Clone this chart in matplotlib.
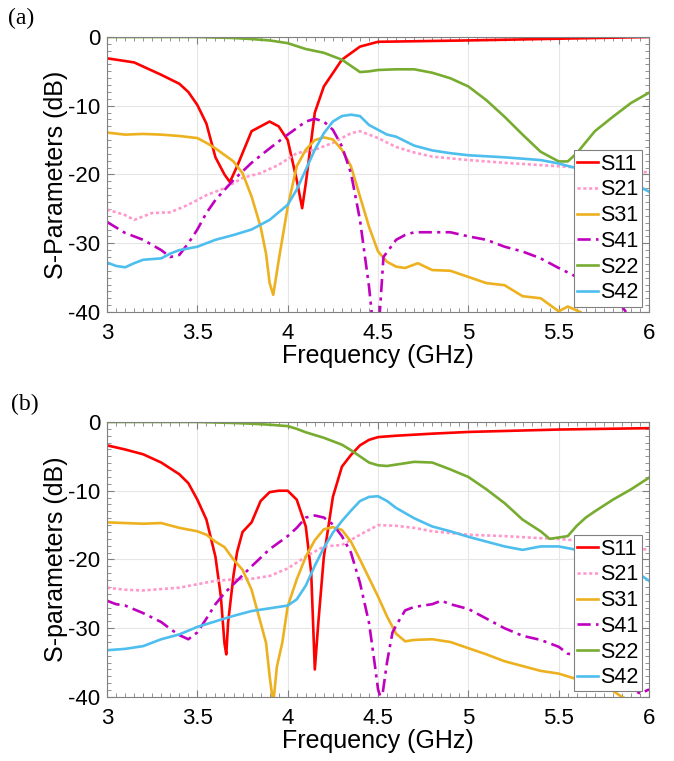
import matplotlib
matplotlib.use('Agg')
import matplotlib.pyplot as plt
from matplotlib.ticker import MultipleLocator

####################################################
# Data
####################################################
series_names = ['S11', 'S21', 'S31', 'S41', 'S22', 'S42']

# ---- panel (a) ----
s11_a_f = [3.0, 3.15, 3.3, 3.4, 3.45, 3.5, 3.55, 3.6, 3.65, 3.68, 3.72, 3.8, 3.9, 3.95, 4.0,
           4.05, 4.08, 4.1, 4.15, 4.2, 4.3, 4.4, 4.5, 5.0, 5.5, 6.0]
s11_a = [-3.1, -3.7, -5.5, -6.8, -8.0, -9.9, -12.6, -17.5, -20.0, -21.1, -18.8, -13.7, -12.3, -13.0, -15.0,
         -20.8, -24.9, -21.3, -11.0, -7.2, -3.3, -1.4, -0.7, -0.5, -0.25, 0.0]

s21_a_f = [3.0, 3.1, 3.15, 3.25, 3.35, 3.45, 3.55, 3.65, 3.75, 3.85, 3.95, 4.05, 4.15, 4.25,
           4.35, 4.4, 4.5, 4.6, 4.7, 4.8, 5.0, 5.2, 5.5, 5.8, 6.0]
s21_a = [-25.1, -25.9, -26.6, -25.6, -25.5, -24.4, -23.0, -22.0, -20.5, -19.8, -18.6, -16.9, -16.4, -15.4,
         -14.0, -13.7, -14.7, -16.0, -16.8, -17.4, -17.9, -18.3, -18.8, -19.3, -19.7]

s31_a_f = [3.0, 3.1, 3.2, 3.3, 3.4, 3.5, 3.55, 3.6, 3.7, 3.75, 3.8, 3.85, 3.88, 3.9, 3.92, 3.95,
           4.0, 4.05, 4.1, 4.15, 4.2, 4.25, 4.3, 4.35, 4.4, 4.45, 4.5, 4.55, 4.6, 4.65, 4.72,
           4.8, 4.9, 5.0, 5.1, 5.2, 5.3, 5.4, 5.5, 5.55, 5.62, 5.65]
s31_a = [-13.9, -14.2, -14.1, -14.2, -14.4, -14.7, -15.4, -16.2, -18.1, -19.8, -23.2, -27.6, -31.5, -35.8, -37.5, -32.5,
         -24.7, -18.8, -16.4, -15.0, -14.6, -14.9, -16.4, -18.8, -23.2, -27.6, -31.2, -32.7, -33.4, -33.6, -32.9,
         -33.9, -34.0, -34.9, -35.8, -36.1, -37.7, -38.0, -39.9, -39.2, -40.0, -40.8]

s41_a_f = [3.0, 3.1, 3.2, 3.3, 3.35, 3.4, 3.45, 3.5, 3.55, 3.6, 3.7, 3.8, 3.9, 4.0, 4.1, 4.15,
           4.2, 4.25, 4.3, 4.35, 4.4, 4.45, 4.48, 4.5, 4.53, 4.6, 4.65, 4.7, 4.8, 4.9, 5.0,
           5.1, 5.2, 5.3, 5.4, 5.5, 5.6, 5.7, 5.8, 5.85, 5.9]
s41_a = [-26.9, -28.5, -29.5, -31.0, -32.0, -31.7, -30.0, -28.0, -25.6, -23.7, -20.8, -18.3, -16.2, -14.2, -12.3, -11.9,
         -12.3, -13.5, -15.9, -19.8, -26.6, -36.3, -44.0, -44.0, -32.0, -29.5, -28.8, -28.4, -28.4, -28.4, -29.0,
         -29.5, -30.5, -31.2, -32.2, -33.6, -34.9, -36.0, -37.5, -39.2, -41.0]

s22_a_f = [3.0, 3.5, 3.7, 3.8, 3.9, 4.0, 4.1, 4.2, 4.3, 4.4, 4.45, 4.5, 4.6, 4.7, 4.8, 4.9,
           5.0, 5.1, 5.2, 5.3, 5.4, 5.5, 5.55, 5.6, 5.7, 5.8, 5.9, 6.0]
s22_a = [0.0, 0.0, -0.15, -0.3, -0.5, -0.9, -1.75, -2.3, -3.3, -5.1, -5.0, -4.8, -4.7, -4.7, -5.2, -6.0,
         -7.2, -9.2, -11.6, -14.2, -16.7, -18.1, -18.1, -16.9, -13.7, -11.6, -9.6, -8.1]

s42_a_f = [3.0, 3.05, 3.1, 3.15, 3.2, 3.3, 3.35, 3.4, 3.5, 3.6, 3.7, 3.8, 3.9, 4.0, 4.05, 4.1,
           4.15, 4.2, 4.25, 4.3, 4.35, 4.4, 4.45, 4.5, 4.55, 4.6, 4.7, 4.8, 4.9, 5.0, 5.2,
           5.4, 5.5, 5.6, 5.8, 5.95, 6.0]
s42_a = [-32.8, -33.3, -33.5, -32.9, -32.4, -32.2, -31.5, -31.0, -30.5, -29.5, -28.8, -28.0, -26.6, -24.4, -22.2, -19.3,
         -16.4, -14.0, -12.3, -11.5, -11.3, -11.5, -12.8, -13.5, -14.2, -14.5, -15.8, -16.5, -16.9, -17.2, -17.5,
         -17.9, -18.4, -19.1, -20.2, -21.8, -22.5]

# ---- panel (b) ----
s11_b_f = [3.0, 3.1, 3.2, 3.3, 3.4, 3.45, 3.5, 3.55, 3.6, 3.63, 3.65, 3.66, 3.67, 3.7, 3.72, 3.75,
           3.8, 3.85, 3.9, 3.95, 4.0, 4.05, 4.1, 4.13, 4.15, 4.17, 4.2, 4.25, 4.3, 4.35, 4.4,
           4.45, 4.5, 4.6, 4.8, 5.0, 5.5, 6.0]
s11_b = [-3.4, -4.0, -4.7, -5.9, -7.6, -8.9, -11.3, -14.2, -19.6, -25.4, -32.2, -33.8, -29.2, -22.3, -18.9, -16.0,
         -14.6, -11.5, -10.2, -10.0, -10.0, -11.3, -15.2, -21.9, -36.0, -29.0, -19.6, -10.9, -6.5, -4.8, -3.4,
         -2.6, -2.2, -2.0, -1.7, -1.45, -1.1, -0.9]

s21_b_f = [3.0, 3.1, 3.2, 3.3, 3.4, 3.5, 3.6, 3.7, 3.8, 3.9, 4.0, 4.1, 4.2, 4.3, 4.4, 4.5,
           4.6, 4.7, 4.8, 5.0, 5.2, 5.4, 5.5, 5.7, 6.0]
s21_b = [-24.1, -24.4, -24.5, -24.3, -24.1, -23.6, -23.1, -22.9, -22.8, -22.4, -21.3, -19.6, -18.1, -17.9, -16.4, -15.0,
         -15.1, -15.4, -15.9, -16.4, -16.6, -16.9, -17.0, -17.5, -18.6]

s31_b_f = [3.0, 3.1, 3.2, 3.3, 3.4, 3.5, 3.55, 3.6, 3.65, 3.7, 3.75, 3.8, 3.85, 3.88, 3.9, 3.92,
           3.94, 3.97, 4.0, 4.05, 4.1, 4.15, 4.2, 4.25, 4.3, 4.35, 4.4, 4.45, 4.5, 4.55, 4.6,
           4.65, 4.7, 4.8, 4.9, 5.0, 5.1, 5.2, 5.3, 5.4, 5.5, 5.6, 5.8, 5.85, 5.9]
s31_b = [-14.6, -14.7, -14.8, -14.7, -15.4, -15.9, -16.4, -17.4, -18.2, -20.0, -21.5, -24.4, -29.2, -32.1, -37.0, -41.0,
         -35.6, -32.1, -26.8, -22.9, -19.6, -17.2, -15.6, -15.3, -15.7, -17.4, -20.0, -22.7, -25.4, -28.3, -30.8,
         -31.9, -31.7, -31.6, -32.0, -32.9, -33.8, -34.8, -35.5, -36.2, -36.6, -37.4, -39.1, -40.0, -40.5]

s41_b_f = [3.0, 3.05, 3.1, 3.2, 3.3, 3.35, 3.4, 3.45, 3.5, 3.55, 3.6, 3.65, 3.7, 3.8, 3.9, 4.0,
           4.05, 4.1, 4.15, 4.2, 4.25, 4.3, 4.35, 4.4, 4.45, 4.48, 4.5, 4.52, 4.55, 4.58, 4.6,
           4.65, 4.7, 4.8, 4.85, 4.9, 5.0, 5.05, 5.1, 5.2, 5.3, 5.4, 5.5, 5.55, 5.6, 5.8, 5.95, 6.0]
s41_b = [-26.0, -26.5, -26.7, -27.8, -29.1, -30.1, -31.0, -31.6, -30.6, -28.6, -26.5, -24.9, -23.6, -21.0, -18.5, -16.6,
         -15.4, -13.9, -13.6, -13.9, -14.9, -16.6, -19.0, -23.4, -29.2, -34.9, -38.9, -40.5, -34.9, -30.6, -29.6,
         -27.4, -26.9, -26.5, -26.0, -26.5, -27.2, -27.9, -28.6, -30.0, -31.1, -31.7, -32.7, -33.7, -33.9, -37.0, -39.5, -38.9]

s22_b_f = [3.0, 3.5, 3.7, 3.8, 3.9, 4.0, 4.05, 4.1, 4.2, 4.3, 4.35, 4.4, 4.45, 4.5, 4.55, 4.6,
           4.7, 4.8, 4.9, 5.0, 5.1, 5.2, 5.3, 5.4, 5.45, 5.5, 5.55, 5.6, 5.65, 5.7, 5.8, 5.9, 6.0]
s22_b = [0.0, 0.0, -0.15, -0.25, -0.4, -0.6, -1.0, -1.5, -2.3, -3.3, -4.1, -5.0, -5.9, -6.3, -6.4, -6.2,
         -5.8, -5.9, -6.9, -8.0, -9.8, -11.8, -14.2, -15.9, -17.0, -16.8, -16.6, -15.1, -13.9, -13.0, -11.3, -9.8, -8.1]

s42_b_f = [3.0, 3.1, 3.2, 3.3, 3.4, 3.5, 3.6, 3.7, 3.8, 3.9, 4.0, 4.05, 4.1, 4.15, 4.2, 4.25,
           4.3, 4.35, 4.4, 4.45, 4.5, 4.55, 4.6, 4.7, 4.8, 4.9, 5.0, 5.1, 5.2, 5.3, 5.4,
           5.5, 5.6, 5.8, 5.95, 6.0]
s42_b = [-33.2, -33.0, -32.6, -31.6, -30.9, -29.8, -29.0, -28.2, -27.5, -27.1, -26.7, -25.8, -23.8, -20.9, -18.3, -16.1,
         -14.4, -12.9, -11.5, -10.9, -10.8, -11.5, -12.5, -14.0, -15.2, -15.9, -16.7, -17.4, -18.1, -18.6, -18.1,
         -18.1, -18.6, -19.5, -22.2, -23.1]

panel_a = [(s11_a_f, s11_a), (s21_a_f, s21_a), (s31_a_f, s31_a),
           (s41_a_f, s41_a), (s22_a_f, s22_a), (s42_a_f, s42_a)]
panel_b = [(s11_b_f, s11_b), (s21_b_f, s21_b), (s31_b_f, s31_b),
           (s41_b_f, s41_b), (s22_b_f, s22_b), (s42_b_f, s42_b)]

####################################################
# Styles
####################################################
colors = ['#FF0000', '#FF99CC', '#EDB120', '#BF00BF', '#77AC30', '#4DBEEE']
dashes = [None, (1.2, 1.0), None, (5.0, 2.0, 1.2, 2.0), None, None]

plt.rcParams['font.family'] = ['Liberation Sans', 'DejaVu Sans']
plt.rcParams['axes.unicode_minus'] = False

fig = plt.figure(figsize=(6.74, 7.61), dpi=100)
ax_a = fig.add_axes([0.1588, 0.590, 0.8042, 0.3614])
ax_b = fig.add_axes([0.1588, 0.0841, 0.8042, 0.3614])


def draw_panel(ax, curves, ylabel):
    for (f, v), name, c, d in zip(curves, series_names, colors, dashes):
        line, = ax.plot(f, v, color=c, lw=1.9, label=name)
        if d is not None:
            line.set_dashes(d)
    ax.set_xlim(3, 6)
    ax.set_ylim(-40, 0)
    ax.xaxis.set_minor_locator(MultipleLocator(0.05))
    ax.yaxis.set_major_locator(MultipleLocator(10))
    ax.yaxis.set_minor_locator(MultipleLocator(1))
    ax.set_xticks([3, 3.5, 4, 4.5, 5, 5.5, 6])
    ax.set_xticklabels(['3', '3.5', '4', '4.5', '5', '5.5', '6'])
    ax.tick_params(which='both', direction='in', top=True, right=True,
                   color='#808080', labelsize=16)
    ax.tick_params(axis='x', which='major', pad=8)
    ax.tick_params(axis='y', which='major', pad=5)
    ax.tick_params(which='major', length=5)
    ax.tick_params(which='minor', length=3)
    ax.grid(True, which='major', color='#E6E6E6', lw=0.8)
    ax.set_axisbelow(True)
    for s in ax.spines.values():
        s.set_color('#808080')
        s.set_linewidth(0.8)
    ax.set_xlabel('Frequency (GHz)', fontsize=18, labelpad=0)
    ax.set_ylabel(ylabel, fontsize=18, labelpad=0)
    leg = ax.legend(loc='lower right', bbox_to_anchor=(0.987, 0.02), fontsize=15.5,
                    fancybox=False, framealpha=1, edgecolor='#808080',
                    borderpad=0.15, labelspacing=0.22, handlelength=1.0,
                    handletextpad=0.1, borderaxespad=0)
    leg.get_frame().set_linewidth(0.8)


draw_panel(ax_a, panel_a, 'S-Parameters (dB)')
draw_panel(ax_b, panel_b, 'S-parameters (dB)')

fig.text(0.012, 0.976, '(a)', fontsize=17, family='Liberation Serif', va='center')
fig.text(0.016, 0.468, '(b)', fontsize=17, family='Liberation Serif', va='center')

plt.savefig('out.png', dpi=100)
